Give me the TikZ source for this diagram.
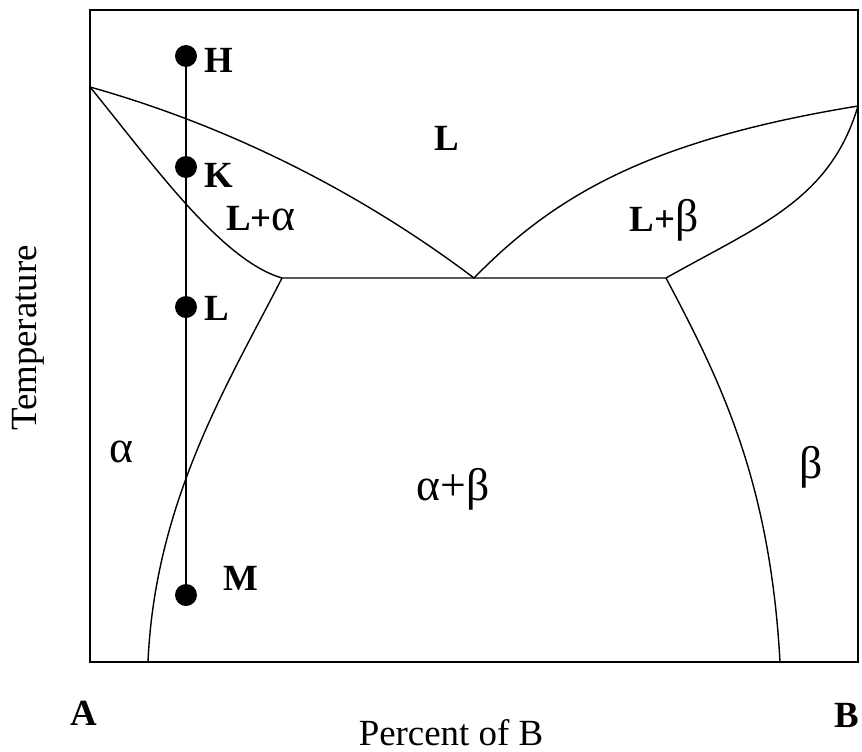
\documentclass[tikz,border=0pt]{standalone}
\usepackage{fontspec}
\setmainfont{Liberation Serif}
\usetikzlibrary{positioning}
\newcommand{\pdsize}{\fontsize{21}{25}\selectfont}
\newcommand{\grk}[1]{{\fontsize{26}{30}\selectfont\mdseries #1}}
\tikzset{
  boxframe/.style={draw, line width=1.1pt},
  phase/.style={draw, line width=0.8pt, line join=round},
  tieline/.style={draw, line width=1pt},
  dot/.style={circle, fill, inner sep=0pt, minimum size=0.44cm},
  ptlabel/.style={font=\pdsize\bfseries, anchor=base, inner sep=0pt},
  region/.style={font=\pdsize, anchor=base, inner sep=0pt},
  axislabel/.style={font=\pdsize, inner sep=0pt}
}

\begin{document}
\begin{tikzpicture}[x=0.02cm, y=-0.02cm]
  \useasboundingbox (0,0) rectangle (862,751);
  \draw[boxframe] (90,10) rectangle (858,662);

  % melting points, eutectic and solubility limits
  \coordinate (mA) at (90,87);
  \coordinate (mB) at (858,106);
  \coordinate (eut) at (474,278);
  \coordinate (sa) at (282,278);
  \coordinate (sb) at (666,278);
  \coordinate (la) at (148,662);
  \coordinate (lb) at (780,662);

  \draw[phase] (mA) .. controls (250,132) and (380,207) .. (eut)
    .. controls (555,195) and (650,140) .. (mB);
  \draw[phase] (mA) .. controls (150,160) and (220,260) .. (sa) -- (sb)
    .. controls (760,225) and (830,200) .. (mB);
  \draw[phase] (sa) .. controls (230,380) and (155,500) .. (la);
  \draw[phase] (sb) .. controls (720,380) and (770,480) .. (lb);

  % cooling path
  \foreach \p/\y in {H/56, K/167, L/307, M/595}{
    \node[dot] (dot-\p) at (186,\y) {};
  }
  \draw[tieline] (dot-H) -- (dot-M);
  \node[ptlabel] (lbl-H) at (219,72) {H};
  \node[ptlabel] (lbl-K) at (219,187) {K};
  \node[ptlabel] (lbl-L) at (217,320) {L};
  \node[ptlabel] (lbl-M) at (241,590) {M};

  % regions
  \node[ptlabel] (liq) at (447,150) {L};
  \node[ptlabel] (liq-a) at (261,230) {L+\grk{α}};
  \node[ptlabel] (liq-b) at (664,231) {L+\grk{β}};
  \node[region] (sol-a) at (121,462) {\grk{α}};
  \node[region] (sol-ab) at (453,500) {\grk{α+β}};
  \node[region] (sol-b) at (811,478) {\grk{β}};

  % axes
  \node[ptlabel] (end-A) at (84,725) {A};
  \node[ptlabel] (end-B) at (847,727) {B};
  \node[region] (xlab) at (451,745) {Percent of B};
  \node[axislabel, rotate=90] (ylab) at (28,338) {Temperature};
\end{tikzpicture}
\end{document}
